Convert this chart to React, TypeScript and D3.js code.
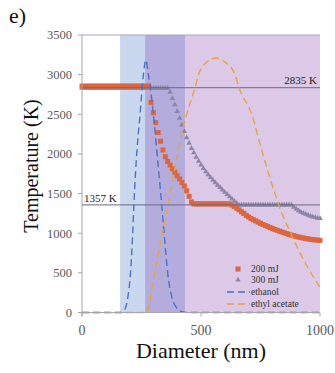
import React from "react";
import * as d3 from "d3";

// Diameter grid (nm) shared by both laser-energy series
const diameters: number[] = d3.range(0, 1001, 10);

// Particle temperature (K), 200 mJ
const temp200: number[] = [
  2855, 2855, 2855, 2855, 2855, 2855, 2855, 2855, 2855, 2855,
  2855, 2855, 2855, 2855, 2855, 2855, 2855, 2855, 2855, 2855,
  2855, 2855, 2855, 2855, 2855, 2855, 2855, 2855, 2855,
  2650, 2520, 2395, 2270, 2160, 2050, 1965, 1905, 1860, 1815,
  1770, 1725, 1685, 1640, 1595, 1535, 1465, 1395,
  1370, 1370, 1370, 1370, 1370, 1370, 1370, 1370, 1370, 1370,
  1370, 1370, 1370, 1370, 1370, 1370,
  1355, 1335, 1315, 1295, 1270, 1250, 1225, 1205, 1185, 1170,
  1155, 1140, 1125, 1110, 1098, 1085, 1072, 1060, 1048, 1037,
  1026, 1015, 1005, 995, 985, 976, 968, 960, 952, 945,
  939, 933, 928, 923, 919, 915, 912, 910,
];

// Particle temperature (K), 300 mJ
const temp300: number[] = [
  2830, 2830, 2830, 2830, 2830, 2830, 2830, 2830, 2830, 2830,
  2830, 2830, 2830, 2830, 2830, 2830, 2830, 2830, 2830, 2830,
  2830, 2830, 2830, 2830, 2830, 2830, 2830, 2830, 2830, 2830,
  2830, 2830, 2830, 2830, 2830, 2830, 2830,
  2780, 2700, 2620, 2535, 2450, 2365, 2285, 2205, 2135, 2070,
  2015, 1960, 1910, 1862, 1817, 1775, 1738, 1703, 1670, 1638,
  1607, 1577, 1547, 1518, 1489, 1460, 1432, 1404, 1378,
  1357, 1357, 1357, 1357, 1357, 1357, 1357, 1357, 1357, 1357,
  1357, 1357, 1357, 1357, 1357, 1357, 1357, 1357, 1357, 1357,
  1357, 1357, 1357,
  1330, 1305, 1285, 1267, 1252, 1239, 1227, 1216, 1206, 1198,
  1191, 1186,
];

// Size distributions (scaled onto the temperature axis)
const ethanolD: number[] = [0, 165, 180, 193, 205, 213, 218, 231, 244, 258, 268, 279, 300, 314, 335, 345, 360, 377, 395, 420, 440, 1000];
const ethanolV: number[] = [0, 0, 40, 200, 550, 1000, 1357, 2050, 2500, 3000, 3185, 3000, 2500, 2050, 1357, 1000, 500, 200, 70, 10, 0, 0];

const acetateD: number[] = [0, 272, 300, 338, 362, 405, 440, 475, 490, 525, 563, 600, 643, 660, 713, 755, 804, 840, 874, 900, 950, 1000];
const acetateV: number[] = [0, 0, 420, 1000, 1357, 2050, 2500, 2835, 3000, 3160, 3210, 3160, 3000, 2835, 2500, 2050, 1560, 1250, 1020, 850, 560, 320];

// Shaded diameter ranges [from, to] and their fills
const bandStarts: number[] = [160, 265, 435];
const bandEnds: number[] = [265, 435, 1000];
const bandColors: string[] = ["#c9d8ee", "#b3acdc", "#dbc9e7"];

// Reference temperatures
const refTemps: number[] = [2835, 1357];

const yTicks: number[] = [0, 500, 1000, 1500, 2000, 2500, 3000, 3500];
const xTicks: number[] = [0, 500, 1000];

const SERIF = "Liberation Serif";

export default function App() {
  const x = d3.scaleLinear().domain([0, 1000]).range([82, 320]);
  const y = d3.scaleLinear().domain([0, 3500]).range([312.5, 35]);

  const line = d3
    .line<[number, number]>()
    .x((d) => x(d[0]))
    .y((d) => y(d[1]))
    .curve(d3.curveMonotoneX);

  const ethanol = line(ethanolD.map((d, i) => [d, ethanolV[i]]));
  const acetate = line(acetateD.map((d, i) => [d, acetateV[i]]));

  const sq = 5;
  const tri = d3.symbol().type(d3.symbolTriangle).size(13)();
  const serif = { fontFamily: SERIF };

  return (
    <svg
      width={335}
      height={373}
      style={{ position: "absolute", left: 0, top: 0, background: "#fff" }}
    >
      <text x={9} y={23} fontSize={22} fill="#111" style={serif}>e)</text>

      {bandStarts.map((s, i) => (
        <rect
          key={i}
          x={x(s)}
          y={y(3500)}
          width={x(bandEnds[i]) - x(s)}
          height={y(0) - y(3500)}
          fill={bandColors[i]}
        />
      ))}

      {/* top frame line */}
      <line x1={x(0)} x2={x(1000)} y1={y(3500)} y2={y(3500)} stroke="#a9a3bf" strokeWidth={1} />

      {/* 300 mJ */}
      {diameters.map((d, i) => (
        <path
          key={"t" + i}
          d={tri as string}
          transform={`translate(${x(d)},${y(temp300[i])})`}
          fill="#8c84a9"
        />
      ))}

      {/* 200 mJ */}
      {diameters.map((d, i) => (
        <rect
          key={"s" + i}
          x={x(d) - sq / 2}
          y={y(temp200[i]) - sq / 2}
          width={sq}
          height={sq}
          fill="#dc663d"
        />
      ))}

      {refTemps.map((t) => (
        <line key={t} x1={x(0)} x2={x(1000)} y1={y(t)} y2={y(t)} stroke="#6c687e" strokeWidth={1} />
      ))}
      <text x={317} y={y(refTemps[0]) - 3.5} fontSize={11} textAnchor="end" fill="#222" style={serif}>2835 K</text>
      <text x={84} y={y(refTemps[1]) - 3} fontSize={11} fill="#222" style={serif}>1357 K</text>

      <path d={ethanol as string} fill="none" stroke="#4a72c8" strokeWidth={1.4} strokeDasharray="7,4" />
      <path d={acetate as string} fill="none" stroke="#e9a33c" strokeWidth={1.4} strokeDasharray="7,4" />

      {/* axes */}
      <line x1={x(0)} x2={x(0)} y1={y(3500)} y2={y(0) + 4} stroke="#a6a6a6" strokeWidth={1} />
      <line x1={x(0)} x2={x(1000)} y1={y(0)} y2={y(0)} stroke="#a6a6a6" strokeWidth={1} />
      {yTicks.map((t) => (
        <g key={"yt" + t}>
          <line x1={x(0) - 4} x2={x(0)} y1={y(t)} y2={y(t)} stroke="#a6a6a6" strokeWidth={1} />
          <text x={72} y={y(t)} dy="0.35em" fontSize={12.5} textAnchor="end" fill="#595959" style={serif}>
            {t}
          </text>
        </g>
      ))}
      {xTicks.map((t) => (
        <g key={"xt" + t}>
          <line x1={x(t)} x2={x(t)} y1={y(0)} y2={y(0) + 4} stroke="#a6a6a6" strokeWidth={1} />
          <text x={x(t)} y={335} fontSize={14} textAnchor="middle" fill="#595959" style={serif}>
            {t}
          </text>
        </g>
      ))}

      <text x={201} y={358} fontSize={22} textAnchor="middle" fill="#111" style={serif}>Diameter (nm)</text>
      <text
        transform="translate(38,166) rotate(-90)"
        fontSize={20}
        textAnchor="middle"
        fill="#111"
        style={serif}
      >
        Temperature (K)
      </text>

      {/* legend */}
      <g fontSize={9.5} fill="#333" style={serif}>
        <rect x={238 - 2.5} y={269 - 2.5} width={5} height={5} fill="#dc663d" />
        <text x={251} y={269} dy="0.35em">200 mJ</text>
        <path d={tri as string} transform="translate(238,280)" fill="#8c84a9" />
        <text x={251} y={280} dy="0.35em">300 mJ</text>
        <line x1={227} x2={250} y1={292} y2={292} stroke="#4a72c8" strokeWidth={1.4} strokeDasharray="7,4" />
        <text x={251} y={292} dy="0.35em">ethanol</text>
        <line x1={227} x2={250} y1={304} y2={304} stroke="#e9a33c" strokeWidth={1.4} strokeDasharray="7,4" />
        <text x={251} y={304} dy="0.35em">ethyl acetate</text>
      </g>
    </svg>
  );
}
